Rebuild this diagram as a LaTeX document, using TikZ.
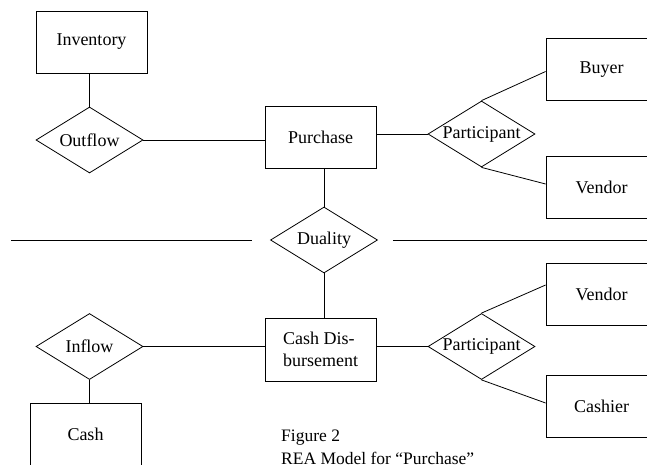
\documentclass[tikz,border=0pt]{standalone}
\usepackage{fontspec}
\setmainfont{Liberation Serif}
\usetikzlibrary{shapes.geometric}
\tikzset{
  entity/.style={draw,line width=0.8pt,minimum width=111pt,minimum height=62pt,inner sep=0pt,
    font=\fontsize{18}{21.5}\selectfont},
  relation/.style={draw,diamond,line width=0.8pt,aspect=1.6,inner sep=0pt,
    minimum width=107pt,minimum height=66pt,font=\fontsize{18}{21.5}\selectfont},
  link/.style={line width=0.8pt}
}
\begin{document}
\begin{tikzpicture}[x=1pt,y=-1pt]
\useasboundingbox (0,0) rectangle (647,465);
\clip (0,0) rectangle (647,465);
\node[entity] (inventory) at (91.5,42) {Inventory};
\node[relation] (outflow) at (89.5,140) {Outflow};
\node[entity] (purchase) at (320.5,137) {Purchase};
\node[relation] (partA) at (481.5,134) {Participant};
\node[entity] (buyer) at (601.5,69.5) {Buyer};
\node[entity] (vendorA) at (601.5,187) {Vendor};
\node[relation] (duality) at (324,240) {Duality};
\node[entity,minimum height=63pt,align=left] (cashdis) at (320.5,349.5) {Cash Dis-\\bursement};
\node[relation] (inflow) at (89.5,346.5) {Inflow};
\node[entity] (cash) at (85.5,434) {Cash};
\node[relation] (partB) at (481.5,346.5) {Participant};
\node[entity] (vendorB) at (601.5,294) {Vendor};
\node[entity] (cashier) at (601.5,406) {Cashier};
\node[anchor=north west,inner sep=0pt,align=left,font=\fontsize{17.5}{23}\selectfont] (caption)
  at (281,430) {Figure 2\\REA Model for “Purchase”};
\coordinate (sepleft) at (11,240);
\coordinate (sepright) at (660,240);

\draw[link] (outflow.north) -- (outflow.north |- inventory.south);
\draw[link] (outflow.east) -- (outflow.east -| purchase.west);
\draw[link] (partA.west) -- (partA.west -| purchase.east);
\draw[link] (partA.north) -- ([yshift=-2pt]buyer.west);
\draw[link] (partA.south) -- ([yshift=3pt]vendorA.west);
\draw[link] (duality.north) -- (duality.north |- purchase.south);
\draw[link] (duality.south) -- (duality.south |- cashdis.north);
\draw[link] (sepleft) -- ([xshift=-18pt]duality.west);
\draw[link] ([xshift=15pt]duality.east) -- (sepright);
\draw[link] (inflow.east) -- (inflow.east -| cashdis.west);
\draw[link] (inflow.south) -- (inflow.south |- cash.north);
\draw[link] (partB.west) -- (partB.west -| cashdis.east);
\draw[link] (partB.north) -- ([yshift=9pt]vendorB.west);
\draw[link] (partB.south) -- ([yshift=3pt]cashier.west);
\end{tikzpicture}
\end{document}
